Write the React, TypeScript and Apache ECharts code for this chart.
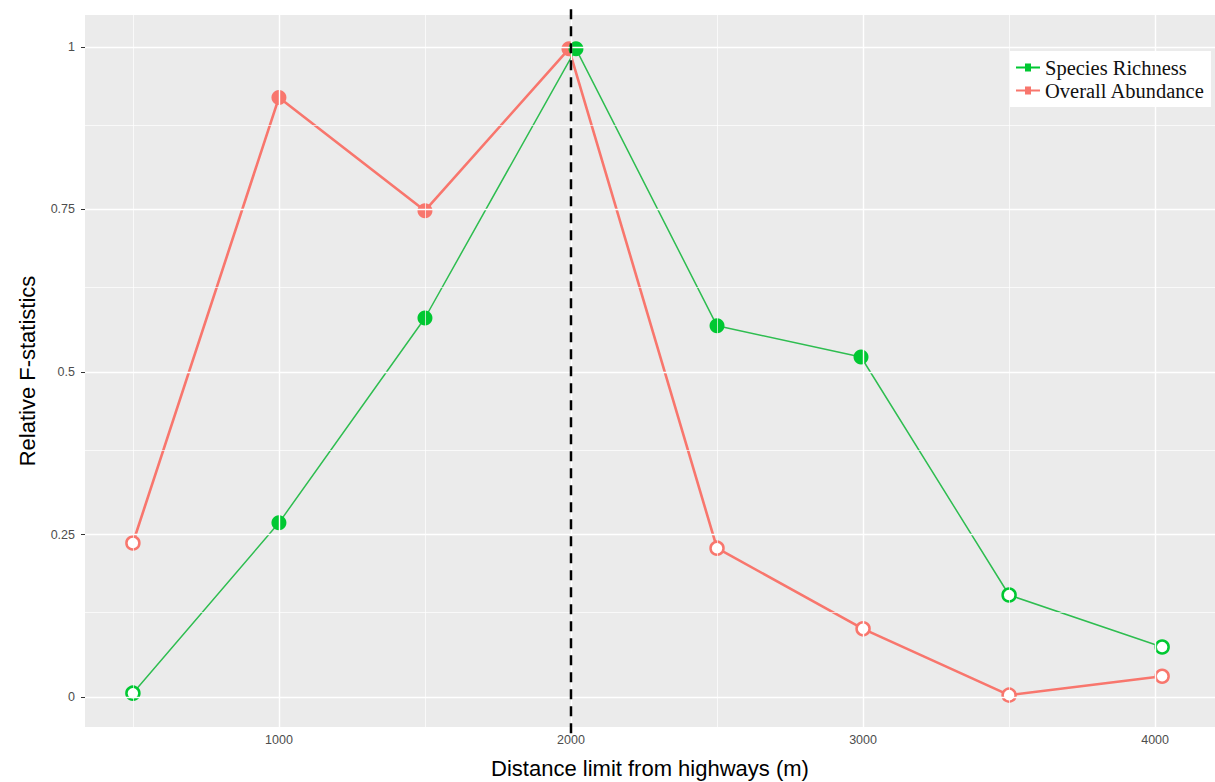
import React, { useEffect, useRef } from "react";
import * as echarts from "echarts";

const seriesNames = ["Species Richness", "Overall Abundance"];
const richnessX = [500, 1000, 1500, 2017, 2500, 2993, 3500, 4024];
const richnessY = [0.006, 0.268, 0.583, 0.997, 0.571, 0.523, 0.157, 0.077];
const richnessFilled = [false, true, true, true, true, true, false, false];
const abundanceX = [500, 1000, 1500, 1993, 2500, 3000, 3500, 4024];
const abundanceY = [0.237, 0.922, 0.748, 0.997, 0.229, 0.105, 0.003, 0.032];
const abundanceFilled = [false, true, true, true, false, false, false, false];

const xTicks = [1000, 2000, 3000, 4000];
const xMinor = [500, 1500, 2500, 3500];
const yTicks = [0, 0.25, 0.5, 0.75, 1];
const yMinor = [0.125, 0.375, 0.625, 0.875];
const cutoff = [2000];

const GREEN = "#00C832";
const GREEN_LINE = "#2EBD50";
const RED = "#F8766D";

function buildPoints(xs: number[], ys: number[], filled: boolean[], color: string) {
  return xs.map((x, i) => ({
    value: [x, ys[i]],
    symbolSize: filled[i] ? 15 : 13,
    itemStyle: filled[i]
      ? { color, borderWidth: 0 }
      : { color: "#ffffff", borderColor: color, borderWidth: 2.5 },
  }));
}

export default function App() {
  const ref = useRef<HTMLDivElement>(null);
  useEffect(() => {
    if (!ref.current) return;
    const chart = echarts.init(ref.current, null, { renderer: "svg" });
    const gridLines: any[] = [
      ...xTicks.map((v) => ({ xAxis: v, lineStyle: { color: "#ffffff", width: 1.4, type: "solid" } })),
      ...xMinor.map((v) => ({ xAxis: v, lineStyle: { color: "#ffffff", width: 0.7, type: "solid" } })),
      ...yTicks.map((v) => ({ yAxis: v, lineStyle: { color: "#ffffff", width: 1.4, type: "solid" } })),
      ...yMinor.map((v) => ({ yAxis: v, lineStyle: { color: "#ffffff", width: 0.7, type: "solid" } })),
    ];
    const option: any = {
      animation: false,
      backgroundColor: "#ffffff",
      grid: {
        left: 85,
        top: 15,
        right: 0,
        bottom: 55,
        show: true,
        backgroundColor: "#EBEBEB",
        borderWidth: 0,
        containLabel: false,
        outerBoundsMode: "none",
      },
      legend: {
        data: seriesNames.map((n, i) => ({
          name: n,
          icon: "path://M0,3H9V0H15V3H24V5H15V8H9V5H0Z",
          itemStyle: { color: i === 0 ? GREEN : RED },
        })),
        orient: "vertical",
        left: 1010,
        top: 51,
        itemWidth: 24,
        itemHeight: 8,
        itemGap: 2,
        backgroundColor: "#ffffff",
        padding: [6, 6, 6, 6],
        textStyle: { fontFamily: "Liberation Serif", fontSize: 20.5, color: "#111111" },
      },
      xAxis: {
        type: "value",
        min: 336,
        max: 4205,
        name: "Distance limit from highways (m)",
        nameLocation: "middle",
        nameGap: 30,
        nameTextStyle: { fontFamily: "Liberation Sans", fontSize: 22, color: "#000000" },
        axisLine: { show: false },
        axisTick: { show: true, length: 3, lineStyle: { color: "#333333", width: 1 }, customValues: xTicks },
        axisLabel: {
          customValues: xTicks,
          formatter: (v: number) => String(v),
          margin: 6,
          fontFamily: "Liberation Sans",
          fontSize: 12.5,
          color: "#4D4D4D",
        },
        splitLine: { show: false },
      },
      yAxis: {
        type: "value",
        min: -0.046,
        max: 1.049,
        name: "Relative F-statistics",
        nameLocation: "middle",
        nameGap: 47,
        nameTextStyle: { fontFamily: "Liberation Sans", fontSize: 22, color: "#000000" },
        axisLine: { show: false },
        axisTick: { show: true, length: 4, lineStyle: { color: "#333333", width: 1 }, customValues: yTicks },
        axisLabel: {
          customValues: yTicks,
          formatter: (v: number) => String(v),
          margin: 10,
          fontFamily: "Liberation Sans",
          fontSize: 12.5,
          color: "#4D4D4D",
        },
        splitLine: { show: false },
      },
      series: [
        {
          type: "line",
          name: "__grid",
          data: [],
          z: 1,
          silent: true,
          markLine: {
            silent: true,
            symbol: ["none", "none"],
            label: { show: false },
            animation: false,
            data: gridLines,
          },
        },
        {
          type: "line",
          name: seriesNames[1],
          data: buildPoints(abundanceX, abundanceY, abundanceFilled, RED),
          symbol: "circle",
          lineStyle: { color: RED, width: 2.6 },
          itemStyle: { color: RED },
          z: 3,
        },
        {
          type: "line",
          name: seriesNames[0],
          data: buildPoints(richnessX, richnessY, richnessFilled, GREEN),
          symbol: "circle",
          lineStyle: { color: GREEN_LINE, width: 1.5 },
          itemStyle: { color: GREEN },
          z: 4,
        },
        {
          type: "custom",
          name: "__cutoff",
          data: cutoff.map((c) => [c]),
          z: 10,
          silent: true,
          clip: false,
          renderItem: (params: any, api: any) => {
            const top = api.coord([api.value(0), 1.058]);
            const bottom = api.coord([api.value(0), -0.058]);
            return {
              type: "line",
              shape: { x1: top[0], y1: top[1], x2: bottom[0], y2: bottom[1] },
              style: { stroke: "#000000", lineWidth: 2.5, lineDash: [10, 7] },
            };
          },
        },
      ],
    };
    chart.setOption(option);
    return () => chart.dispose();
  }, []);
  return (
    <div
      ref={ref}
      style={{ position: "absolute", left: 0, top: 0, width: 1215, height: 782 }}
    />
  );
}
